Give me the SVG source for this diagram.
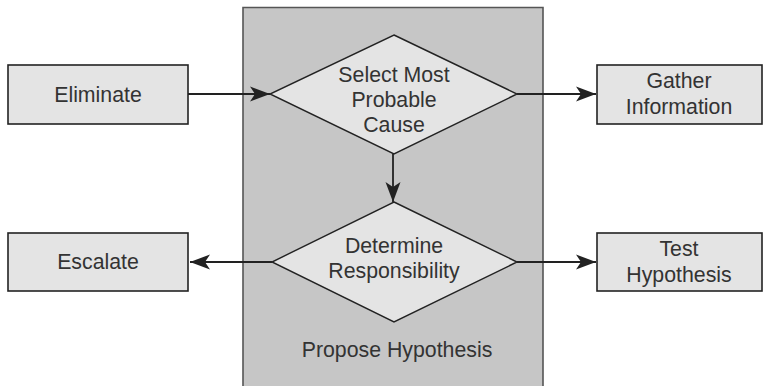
<svg xmlns="http://www.w3.org/2000/svg" width="765" height="386" viewBox="0 0 765 386">
  <style>
    .box { fill: #e4e4e4; stroke: #222; stroke-width: 1.6; }
    .dia { fill: #e4e4e4; stroke: #222; stroke-width: 1.4; }
    .panel { fill: #c6c6c6; stroke: #555; stroke-width: 1.6; }
    .lbl { font-family: "Liberation Sans", Arial, sans-serif; font-size: 21.3px; fill: #333; text-anchor: middle; }
    .edge { stroke: #222; stroke-width: 1.8; fill: none; }
  </style>
  <defs>
    <marker id="arrow" markerUnits="userSpaceOnUse" markerWidth="22" markerHeight="18" viewBox="0 0 22 18" refX="20" refY="9" orient="auto">
      <path d="M0,1.5 L20,9 L0,16.5 L5,9 Z" fill="#222"/>
    </marker>
  </defs>

  <!-- shaded process panel -->
  <g id="propose-hypothesis">
    <path class="panel" d="M243,390 L243,7.5 L543,7.5 L543,390"/>
    <text class="lbl" x="397" y="357">Propose Hypothesis</text>
  </g>

  <g id="eliminate">
    <rect class="box" x="8" y="65" width="180" height="59"/>
    <text class="lbl" x="98" y="102">Eliminate</text>
  </g>

  <g id="gather-information">
    <rect class="box" x="597" y="65" width="165" height="59"/>
    <text class="lbl" x="679" y="88">Gather</text>
    <text class="lbl" x="679" y="114">Information</text>
  </g>

  <g id="escalate">
    <rect class="box" x="8" y="233" width="180" height="58"/>
    <text class="lbl" x="98" y="269">Escalate</text>
  </g>

  <g id="test-hypothesis">
    <rect class="box" x="597" y="233" width="165" height="58"/>
    <text class="lbl" x="679" y="256">Test</text>
    <text class="lbl" x="679" y="282">Hypothesis</text>
  </g>

  <g id="select-cause">
    <polygon class="dia" points="394,35 517,94 394,154 270,94"/>
    <text class="lbl" x="394" y="82">Select Most</text>
    <text class="lbl" x="394" y="107">Probable</text>
    <text class="lbl" x="394" y="132">Cause</text>
  </g>

  <g id="determine-responsibility">
    <polygon class="dia" points="394,202 517,262 394,322 272,262"/>
    <text class="lbl" x="394" y="253">Determine</text>
    <text class="lbl" x="394" y="278">Responsibility</text>
  </g>

  <g id="connectors">
    <line class="edge" x1="188" y1="94" x2="270" y2="94" marker-end="url(#arrow)"/>
    <line class="edge" x1="517" y1="94" x2="596" y2="94" marker-end="url(#arrow)"/>
    <line class="edge" x1="393" y1="154" x2="393" y2="202" marker-end="url(#arrow)"/>
    <line class="edge" x1="272" y1="262" x2="190" y2="262" marker-end="url(#arrow)"/>
    <line class="edge" x1="517" y1="262" x2="596" y2="262" marker-end="url(#arrow)"/>
  </g>
</svg>
